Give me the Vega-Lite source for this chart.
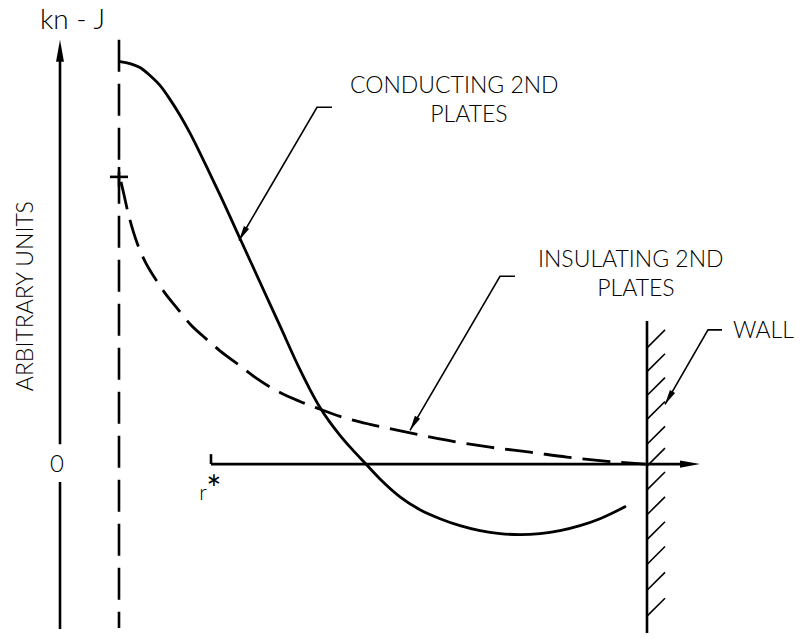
{
  "$schema": "https://vega.github.io/schema/vega-lite/v6.json",
  "width": 804,
  "height": 639,
  "padding": 0,
  "autosize": {"type": "fit", "contains": "padding"},
  "background": "white",
  "config": {"view": {"stroke": null}},
  "datasets": {
    "segs": [
      {"s": "conducting", "k": "curve", "i": 1, "x": 120, "y": 405},
      {"s": "conducting", "k": "curve", "i": 2, "x": 130, "y": 403},
      {"s": "conducting", "k": "curve", "i": 3, "x": 140, "y": 399},
      {"s": "conducting", "k": "curve", "i": 4, "x": 150, "y": 391},
      {"s": "conducting", "k": "curve", "i": 5, "x": 160, "y": 381},
      {"s": "conducting", "k": "curve", "i": 6, "x": 170, "y": 367},
      {"s": "conducting", "k": "curve", "i": 7, "x": 180, "y": 351},
      {"s": "conducting", "k": "curve", "i": 8, "x": 190, "y": 333},
      {"s": "conducting", "k": "curve", "i": 9, "x": 200, "y": 313},
      {"s": "conducting", "k": "curve", "i": 10, "x": 210, "y": 292},
      {"s": "conducting", "k": "curve", "i": 11, "x": 220, "y": 271},
      {"s": "conducting", "k": "curve", "i": 12, "x": 240, "y": 227},
      {"s": "conducting", "k": "curve", "i": 13, "x": 260, "y": 183},
      {"s": "conducting", "k": "curve", "i": 14, "x": 280, "y": 139},
      {"s": "conducting", "k": "curve", "i": 15, "x": 300, "y": 95},
      {"s": "conducting", "k": "curve", "i": 16, "x": 310, "y": 75},
      {"s": "conducting", "k": "curve", "i": 17, "x": 320, "y": 57},
      {"s": "conducting", "k": "curve", "i": 18, "x": 330, "y": 42},
      {"s": "conducting", "k": "curve", "i": 19, "x": 340, "y": 29},
      {"s": "conducting", "k": "curve", "i": 20, "x": 352, "y": 15},
      {"s": "conducting", "k": "curve", "i": 21, "x": 365, "y": 1},
      {"s": "conducting", "k": "curve", "i": 22, "x": 380, "y": -15},
      {"s": "conducting", "k": "curve", "i": 23, "x": 400, "y": -33},
      {"s": "conducting", "k": "curve", "i": 24, "x": 420, "y": -46},
      {"s": "conducting", "k": "curve", "i": 25, "x": 440, "y": -55},
      {"s": "conducting", "k": "curve", "i": 26, "x": 460, "y": -62},
      {"s": "conducting", "k": "curve", "i": 27, "x": 480, "y": -67},
      {"s": "conducting", "k": "curve", "i": 28, "x": 500, "y": -70},
      {"s": "conducting", "k": "curve", "i": 29, "x": 520, "y": -71},
      {"s": "conducting", "k": "curve", "i": 30, "x": 540, "y": -70},
      {"s": "conducting", "k": "curve", "i": 31, "x": 560, "y": -67},
      {"s": "conducting", "k": "curve", "i": 32, "x": 580, "y": -62},
      {"s": "conducting", "k": "curve", "i": 33, "x": 600, "y": -55},
      {"s": "conducting", "k": "curve", "i": 34, "x": 625, "y": -43},

      {"s": "insulating", "k": "dcurve", "i": 1, "x": 121, "y": 284},
      {"s": "insulating", "k": "dcurve", "i": 2, "x": 124, "y": 271},
      {"s": "insulating", "k": "dcurve", "i": 3, "x": 128, "y": 253},
      {"s": "insulating", "k": "dcurve", "i": 4, "x": 133, "y": 235},
      {"s": "insulating", "k": "dcurve", "i": 5, "x": 138, "y": 220},
      {"s": "insulating", "k": "dcurve", "i": 6, "x": 145, "y": 204},
      {"s": "insulating", "k": "dcurve", "i": 7, "x": 155, "y": 187},
      {"s": "insulating", "k": "dcurve", "i": 8, "x": 165, "y": 172},
      {"s": "insulating", "k": "dcurve", "i": 9, "x": 177, "y": 157},
      {"s": "insulating", "k": "dcurve", "i": 10, "x": 190, "y": 141},
      {"s": "insulating", "k": "dcurve", "i": 11, "x": 205, "y": 127},
      {"s": "insulating", "k": "dcurve", "i": 12, "x": 220, "y": 114},
      {"s": "insulating", "k": "dcurve", "i": 13, "x": 240, "y": 99},
      {"s": "insulating", "k": "dcurve", "i": 14, "x": 257, "y": 86},
      {"s": "insulating", "k": "dcurve", "i": 15, "x": 280, "y": 72},
      {"s": "insulating", "k": "dcurve", "i": 16, "x": 300, "y": 63},
      {"s": "insulating", "k": "dcurve", "i": 17, "x": 318, "y": 56},
      {"s": "insulating", "k": "dcurve", "i": 18, "x": 340, "y": 48},
      {"s": "insulating", "k": "dcurve", "i": 19, "x": 370, "y": 40},
      {"s": "insulating", "k": "dcurve", "i": 20, "x": 403, "y": 33},
      {"s": "insulating", "k": "dcurve", "i": 21, "x": 447, "y": 24},
      {"s": "insulating", "k": "dcurve", "i": 22, "x": 490, "y": 17},
      {"s": "insulating", "k": "dcurve", "i": 23, "x": 530, "y": 12},
      {"s": "insulating", "k": "dcurve", "i": 24, "x": 567, "y": 7},
      {"s": "insulating", "k": "dcurve", "i": 25, "x": 605, "y": 3},
      {"s": "insulating", "k": "dcurve", "i": 26, "x": 645, "y": 0},

      {"s": "rstar", "k": "dvert", "i": 1, "x": 119, "y": 427},
      {"s": "rstar", "k": "dvert", "i": 2, "x": 119, "y": -165},

      {"s": "yaxis_up", "k": "thick", "i": 1, "x": 60, "y": 20},
      {"s": "yaxis_up", "k": "thick", "i": 2, "x": 60, "y": 412},
      {"s": "yaxis_low", "k": "thick", "i": 1, "x": 60, "y": -18},
      {"s": "yaxis_low", "k": "thick", "i": 2, "x": 60, "y": -166},
      {"s": "raxis", "k": "thick", "i": 1, "x": 211, "y": 0},
      {"s": "raxis", "k": "thick", "i": 2, "x": 690, "y": 0},
      {"s": "rtick", "k": "thick", "i": 1, "x": 211, "y": 10},
      {"s": "rtick", "k": "thick", "i": 2, "x": 211, "y": 0},
      {"s": "wall", "k": "thick", "i": 1, "x": 647, "y": 144},
      {"s": "wall", "k": "thick", "i": 2, "x": 647, "y": -170},
      {"s": "plus_h", "k": "thick", "i": 1, "x": 110, "y": 289},
      {"s": "plus_h", "k": "thick", "i": 2, "x": 128, "y": 289},
      {"s": "plus_v", "k": "thick", "i": 1, "x": 119, "y": 299},
      {"s": "plus_v", "k": "thick", "i": 2, "x": 119, "y": 279},

      {"s": "h1", "k": "thin", "i": 1, "x": 647, "y": 117},
      {"s": "h1", "k": "thin", "i": 2, "x": 665, "y": 135},
      {"s": "h2", "k": "thin", "i": 1, "x": 647, "y": 93},
      {"s": "h2", "k": "thin", "i": 2, "x": 665, "y": 111},
      {"s": "h3", "k": "thin", "i": 1, "x": 647, "y": 69},
      {"s": "h3", "k": "thin", "i": 2, "x": 665, "y": 87},
      {"s": "h4", "k": "thin", "i": 1, "x": 647, "y": 45},
      {"s": "h4", "k": "thin", "i": 2, "x": 665, "y": 63},
      {"s": "h5", "k": "thin", "i": 1, "x": 647, "y": 20},
      {"s": "h5", "k": "thin", "i": 2, "x": 665, "y": 38},
      {"s": "h6", "k": "thin", "i": 1, "x": 647, "y": -2},
      {"s": "h6", "k": "thin", "i": 2, "x": 665, "y": 16},
      {"s": "h7", "k": "thin", "i": 1, "x": 647, "y": -26},
      {"s": "h7", "k": "thin", "i": 2, "x": 665, "y": -8},
      {"s": "h8", "k": "thin", "i": 1, "x": 647, "y": -51},
      {"s": "h8", "k": "thin", "i": 2, "x": 665, "y": -33},
      {"s": "h9", "k": "thin", "i": 1, "x": 647, "y": -76},
      {"s": "h9", "k": "thin", "i": 2, "x": 665, "y": -58},
      {"s": "h10", "k": "thin", "i": 1, "x": 647, "y": -101},
      {"s": "h10", "k": "thin", "i": 2, "x": 665, "y": -83},
      {"s": "h11", "k": "thin", "i": 1, "x": 647, "y": -127},
      {"s": "h11", "k": "thin", "i": 2, "x": 665, "y": -109},
      {"s": "h12", "k": "thin", "i": 1, "x": 647, "y": -153},
      {"s": "h12", "k": "thin", "i": 2, "x": 665, "y": -135},

      {"s": "lead_c", "k": "thin", "i": 1, "x": 332, "y": 359},
      {"s": "lead_c", "k": "thin", "i": 2, "x": 317, "y": 359},
      {"s": "lead_c", "k": "thin", "i": 3, "x": 239, "y": 225},
      {"s": "lead_i", "k": "thin", "i": 1, "x": 515, "y": 189},
      {"s": "lead_i", "k": "thin", "i": 2, "x": 500, "y": 189},
      {"s": "lead_i", "k": "thin", "i": 3, "x": 410, "y": 34},
      {"s": "lead_w", "k": "thin", "i": 1, "x": 722, "y": 135},
      {"s": "lead_w", "k": "thin", "i": 2, "x": 708, "y": 135},
      {"s": "lead_w", "k": "thin", "i": 3, "x": 665, "y": 60}
    ],
    "tips": [
      {"a": "leader", "x": 239, "y": 225},
      {"a": "leader", "x": 410, "y": 34},
      {"a": "leader", "x": 665, "y": 60},
      {"a": "yaxis", "x": 60, "y": 427},
      {"a": "raxis", "x": 700, "y": 0}
    ],
    "labels": [
      {"t": "kn - J", "g": "big", "x": 40, "y": 438},
      {"t": "CONDUCTING 2ND", "g": "left", "x": 350, "y": 373},
      {"t": "PLATES", "g": "center", "x": 469, "y": 344},
      {"t": "INSULATING 2ND", "g": "left", "x": 538, "y": 198},
      {"t": "PLATES", "g": "center", "x": 636, "y": 169},
      {"t": "WALL", "g": "left", "x": 733, "y": 127},
      {"t": "0", "g": "zero", "x": 57, "y": -8},
      {"t": "r", "g": "r", "x": 203, "y": -36},
      {"t": "*", "g": "star", "x": 214, "y": -38},
      {"t": "ARBITRARY UNITS", "g": "rot", "x": 33, "y": 169}
    ]
  },
  "encoding": {
    "x": {"field": "x", "type": "quantitative", "scale": {"domain": [0, 804], "nice": false, "zero": false}, "axis": null},
    "y": {"field": "y", "type": "quantitative", "scale": {"domain": [-172, 467], "nice": false, "zero": false}, "axis": null}
  },
  "layer": [
    {
      "data": {"name": "segs"},
      "transform": [{"filter": "datum.k === 'curve'"}],
      "mark": {"type": "line", "color": "black", "strokeWidth": 2.8, "interpolate": "monotone", "strokeCap": "round"},
      "encoding": {"detail": {"field": "s"}, "order": {"field": "i", "type": "quantitative"}}
    },
    {
      "data": {"name": "segs"},
      "transform": [{"filter": "datum.k === 'dcurve'"}],
      "mark": {"type": "line", "color": "black", "strokeWidth": 2.8, "interpolate": "monotone", "strokeDash": [28, 11]},
      "encoding": {"detail": {"field": "s"}, "order": {"field": "i", "type": "quantitative"}}
    },
    {
      "data": {"name": "segs"},
      "transform": [{"filter": "datum.k === 'dvert'"}],
      "mark": {"type": "line", "color": "black", "strokeWidth": 2.6, "strokeDash": [32, 12]},
      "encoding": {"detail": {"field": "s"}, "order": {"field": "i", "type": "quantitative"}}
    },
    {
      "data": {"name": "segs"},
      "transform": [{"filter": "datum.k === 'thick'"}],
      "mark": {"type": "line", "color": "black", "strokeWidth": 2.6},
      "encoding": {"detail": {"field": "s"}, "order": {"field": "i", "type": "quantitative"}}
    },
    {
      "data": {"name": "segs"},
      "transform": [{"filter": "datum.k === 'thin'"}],
      "mark": {"type": "line", "color": "black", "strokeWidth": 1.6},
      "encoding": {"detail": {"field": "s"}, "order": {"field": "i", "type": "quantitative"}}
    },
    {
      "data": {"name": "tips"},
      "transform": [{"filter": "datum.a === 'leader'"}],
      "mark": {"type": "point", "shape": "M0,0L0.4,2L-0.4,2Z", "filled": true, "color": "black", "opacity": 1, "size": 225, "angle": 210, "strokeWidth": 0}
    },
    {
      "data": {"name": "tips"},
      "transform": [{"filter": "datum.a === 'yaxis'"}],
      "mark": {"type": "point", "shape": "M0,0L0.36,2L-0.36,2Z", "filled": true, "color": "black", "opacity": 1, "size": 484, "angle": 0, "strokeWidth": 0}
    },
    {
      "data": {"name": "tips"},
      "transform": [{"filter": "datum.a === 'raxis'"}],
      "mark": {"type": "point", "shape": "M0,0L0.36,2L-0.36,2Z", "filled": true, "color": "black", "opacity": 1, "size": 400, "angle": 90, "strokeWidth": 0}
    },
    {
      "data": {"name": "labels"},
      "transform": [{"filter": "datum.g === 'big'"}],
      "mark": {"type": "text", "align": "left", "baseline": "alphabetic", "font": "Lato", "fontWeight": 300, "fontSize": 28, "color": "black"},
      "encoding": {"text": {"field": "t"}}
    },
    {
      "data": {"name": "labels"},
      "transform": [{"filter": "datum.g === 'left'"}],
      "mark": {"type": "text", "align": "left", "baseline": "alphabetic", "font": "Lato", "fontWeight": 300, "fontSize": 23, "color": "black"},
      "encoding": {"text": {"field": "t"}}
    },
    {
      "data": {"name": "labels"},
      "transform": [{"filter": "datum.g === 'center'"}],
      "mark": {"type": "text", "align": "center", "baseline": "alphabetic", "font": "Lato", "fontWeight": 300, "fontSize": 23, "color": "black"},
      "encoding": {"text": {"field": "t"}}
    },
    {
      "data": {"name": "labels"},
      "transform": [{"filter": "datum.g === 'zero'"}],
      "mark": {"type": "text", "align": "center", "baseline": "alphabetic", "font": "Lato", "fontWeight": 300, "fontSize": 24, "color": "black"},
      "encoding": {"text": {"field": "t"}}
    },
    {
      "data": {"name": "labels"},
      "transform": [{"filter": "datum.g === 'r'"}],
      "mark": {"type": "text", "align": "center", "baseline": "alphabetic", "font": "Lato", "fontWeight": 300, "fontSize": 21, "color": "black"},
      "encoding": {"text": {"field": "t"}}
    },
    {
      "data": {"name": "labels"},
      "transform": [{"filter": "datum.g === 'star'"}],
      "mark": {"type": "text", "align": "center", "baseline": "alphabetic", "font": "Lato", "fontWeight": 400, "fontSize": 36, "color": "black"},
      "encoding": {"text": {"field": "t"}}
    },
    {
      "data": {"name": "labels"},
      "transform": [{"filter": "datum.g === 'rot'"}],
      "mark": {"type": "text", "align": "center", "baseline": "alphabetic", "angle": 270, "font": "Lato", "fontWeight": 300, "fontSize": 23, "color": "black"},
      "encoding": {"text": {"field": "t"}}
    }
  ]
}
